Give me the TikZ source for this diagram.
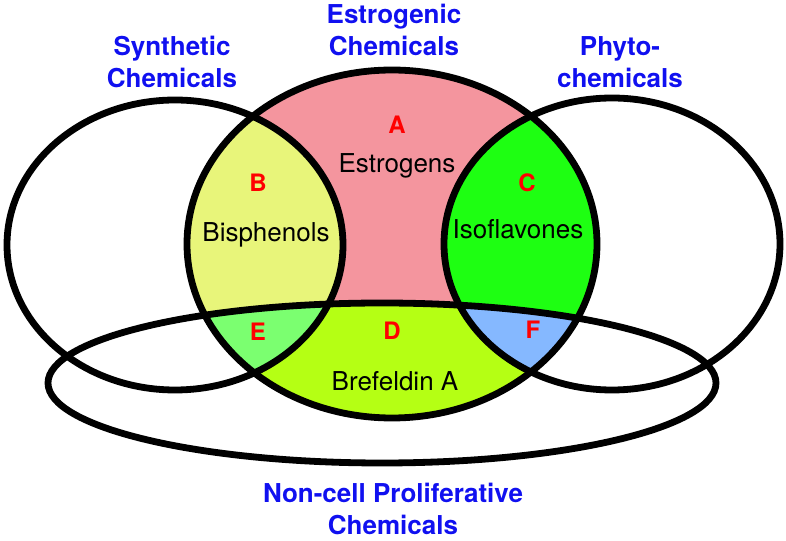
\documentclass[tikz,border=0pt]{standalone}
\usepackage{fontspec}
\setmainfont{TeX Gyre Heros}
\usetikzlibrary{positioning}

\definecolor{estpink}{HTML}{F4959E}
\definecolor{bisyellow}{HTML}{E8F57A}
\definecolor{isogreen}{HTML}{1EFF12}
\definecolor{brefgreen}{HTML}{B5FF14}
\definecolor{egreen}{HTML}{7BFF70}
\definecolor{fblue}{HTML}{85B8FF}
\definecolor{setblue}{HTML}{1010F0}

% the four sets
\def\synset{(175,245) ellipse [x radius=168, y radius=145]}
\def\estset{(392,244) ellipse [x radius=205, y radius=174]}
\def\physet{(612,244) ellipse [x radius=168, y radius=146]}
\def\ncpset{(382,383) ellipse [x radius=334, y radius=80]}

\begin{document}
\begin{tikzpicture}[x=0.75pt, y=-0.75pt,
        setline/.style={line width=5.1pt},
        setname/.style={text=setblue, align=center, font=\fontsize{19.5}{23.5}\selectfont\bfseries},
        letter/.style={text=red, font=\fontsize{18}{20}\selectfont\bfseries},
        member/.style={font=\fontsize{19.5}{23.5}\selectfont}
    ]
    \useasboundingbox (0,0) rectangle (786,541);

    % Regions
    \fill[estpink] \estset;
    \begin{scope}
        \clip \estset;
        \fill[bisyellow] \synset;
        \fill[isogreen] \physet;
        \fill[brefgreen] \ncpset;
        \begin{scope}
            \clip \ncpset;
            \fill[egreen] \synset;
            \fill[fblue] \physet;
        \end{scope}
    \end{scope}

    % Outlines
    \draw[setline] \synset;
    \draw[setline] \physet;
    \draw[setline] \ncpset;
    \draw[setline] \estset;

    % Set names
    \node[setname] (synthetic) at (172,62) {Synthetic\\Chemicals};
    \node[setname] (estrogenic) at (394,30) {Estrogenic\\Chemicals};
    \node[setname] (phyto) at (620,62) {Phyto-\\chemicals};
    \node[setname] (noncell) at (393,509) {Non-cell Proliferative\\Chemicals};

    % Region letters and members
    \node[letter] (A) at (397,125) {A};
    \node[member, below=8pt of A] (estrogens) {Estrogens};
    \node[letter] (B) at (258,183) {B};
    \node[member] (bisphenols) at (266,235) {Bisphenols};
    \node[letter] (C) at (527,183) {C};
    \node[member] (isoflavones) at (518,229) {Isoflavones};
    \node[letter] (D) at (392,331) {D};
    \node[member] (brefeldin) at (395,381) {Brefeldin A};
    \node[letter] (E) at (258,332) {E};
    \node[letter] (F) at (533,330) {F};

\end{tikzpicture}
\end{document}
